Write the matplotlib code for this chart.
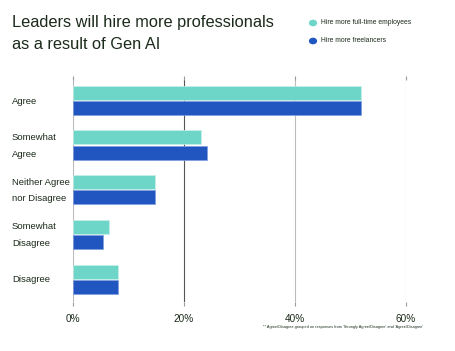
import matplotlib.pyplot as plt
import numpy as np

# Survey data (percent of leaders)
categories = ["Agree", "Somewhat\nAgree", "Neither Agree\nnor Disagree", "Somewhat\nDisagree", "Disagree"]
full_time = [52, 23.1, 14.8, 6.5, 8.2]
freelancers = [52, 24.1, 14.8, 5.4, 8.2]
x_ticks = [0, 20, 40, 60]
x_tick_labels = ["0%", "20%", "40%", "60%"]

TEAL = "#6dd6c8"
BLUE = "#2156c0"
TEXT = "#1b2a1b"

plt.rcParams["font.family"] = ["Liberation Sans Narrow", "Liberation Sans", "DejaVu Sans"]

fig = plt.figure(figsize=(4.56, 3.51), dpi=100)
ax = fig.add_axes([0.160, 0.140, 0.730, 0.632])

y = np.arange(len(categories))
h = 0.31
ax.barh(y - 0.17, full_time, height=h, color=TEAL, edgecolor="#c9f0ea", linewidth=0.5, zorder=3,
        label="Hire more full-time employees")
ax.barh(y + 0.17, freelancers, height=h, color=BLUE, edgecolor="#7f9de0", linewidth=0.5, zorder=3,
        label="Hire more freelancers")

ax.set_xlim(0, 60)
ax.set_ylim(4.5, -0.45)

# vertical grid lines
for t in x_ticks:
    col = "#bbbbbb" if t in (0, 40, 60) else "#555555"
    ax.axvline(t, color=col, linewidth=0.8, zorder=1)

for s in ax.spines.values():
    s.set_visible(False)

ax.set_xticks(x_ticks)
ax.set_xticklabels(x_tick_labels, fontsize=7.2, color=TEXT)
ax.tick_params(axis="x", length=3, color="#999999", pad=6, top=True, direction="out")
ax.set_yticks([])

# category labels
for yi, c in zip(y, categories):
    fig.text(12 / 456, 1 - (101 + yi * 44.7) / 351, c, fontsize=6.8, color=TEXT,
             ha="left", va="center", linespacing=2.1)

# title
fig.text(12 / 456, 1 - 15 / 351, "Leaders will hire more professionals\nas a result of Gen AI",
         fontsize=11.8, color=TEXT, ha="left", va="top", linespacing=1.6, fontweight="medium")

# legend
legend_items = [("Hire more full-time employees", TEAL), ("Hire more freelancers", BLUE)]
for i, (lab, col) in enumerate(legend_items):
    yy = 1 - (23 + i * 18) / 351
    fig.patches.append(plt.Circle((313 / 456, yy), 3.4 / 456, color=col,
                                  transform=fig.transFigure, figure=fig))
    fig.text(321 / 456, yy, lab, fontsize=4.9, color=TEXT, ha="left", va="center")

# footnote
fig.text(423 / 456, 1 - 327 / 351,
         "** Agree/Disagree grouped on responses from 'Strongly Agree/Disagree' and 'Agree/Disagree'",
         fontsize=2.8, color=TEXT, ha="right", va="center")

fig.savefig("out.png", dpi=100)
